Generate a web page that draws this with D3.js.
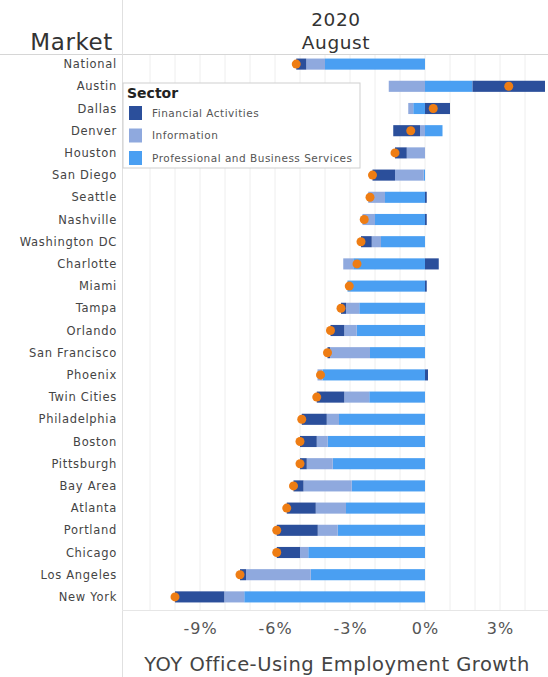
<!DOCTYPE html>
<html>
<head>
<meta charset="utf-8">
<script src="https://cdn.jsdelivr.net/npm/d3@7"></script>
<style>
  html, body { margin: 0; padding: 0; background: #fff; }
  svg { display: block; font-family: "DejaVu Sans", "Noto Sans", sans-serif; }
</style>
</head>
<body>
<svg id="chart" width="548" height="677"></svg>
<script>
const markets = ["National","Austin","Dallas","Denver","Houston","San Diego","Seattle","Nashville",
  "Washington DC","Charlotte","Miami","Tampa","Orlando","San Francisco","Phoenix","Twin Cities",
  "Philadelphia","Boston","Pittsburgh","Bay Area","Atlanta","Portland","Chicago","Los Angeles","New York"];
const financial    = [-0.4, 2.9, 1.0, -1.07, -0.47, -0.9, 0.07, 0.07, -0.43, 0.55, 0.07, -0.2, -0.55, -0.1, 0.12, -1.1, -1.0, -0.67, -0.27, -0.4, -1.16, -1.64, -0.93, -0.24, -1.97];
const information  = [-0.75, -1.45, -0.2, -0.2, -0.73, -1.15, -0.67, -0.5, -0.37, -0.4, 0, -0.53, -0.5, -1.6, -0.2, -1.0, -0.49, -0.44, -1.04, -1.93, -1.21, -0.8, -0.33, -2.59, -0.8];
const professional = [-4.0, 1.9, -0.47, 0.7, 0, -0.05, -1.6, -2.0, -1.76, -2.87, -3.1, -2.63, -2.73, -2.2, -4.1, -2.23, -3.44, -3.89, -3.69, -2.93, -3.16, -3.49, -4.67, -4.57, -7.23];
const sectors = ["Financial Activities", "Information", "Professional and Business Services"];
const sectorColors = ["#2b4f9b", "#8fa9de", "#4a9ff2"];
const xTicks = [-9, -6, -3, 0, 3];
const gridTicks = d3.range(-11, 5);

const rows = markets.map((m, i) => ({
  market: m,
  "Professional and Business Services": professional[i],
  "Information": information[i],
  "Financial Activities": financial[i],
  total: professional[i] + information[i] + financial[i]
}));

const svg = d3.select("#chart");
const W = 548, H = 677;
const plotL = 122, plotR = 548, plotT = 54, plotB = 610;

const x = d3.scaleLinear().domain([-12.12, 4.92]).range([plotL, plotR]);
const y = d3.scaleBand().domain(markets).range([53, 608]).paddingInner(0.5).paddingOuter(0.25);

const color = d3.scaleOrdinal().domain(sectors).range(sectorColors);

// grid lines
svg.append("g").selectAll("line").data(gridTicks).join("line")
  .attr("x1", d => x(d)).attr("x2", d => x(d))
  .attr("y1", plotT).attr("y2", plotB)
  .attr("stroke", "#eeeeee").attr("stroke-width", 1);

// frame lines
svg.append("line").attr("x1", 0).attr("x2", W).attr("y1", plotT + 0.5).attr("y2", plotT + 0.5)
  .attr("stroke", "#d6d6d6");
svg.append("line").attr("x1", plotL + 0.5).attr("x2", plotL + 0.5).attr("y1", 0).attr("y2", H)
  .attr("stroke", "#e0e0e0");
svg.append("line").attr("x1", plotL).attr("x2", W).attr("y1", plotB + 0.5).attr("y2", plotB + 0.5)
  .attr("stroke", "#e6e6e6");

// stacked bars
const keys = ["Professional and Business Services", "Information", "Financial Activities"];
const stack = d3.stack().keys(keys).offset(d3.stackOffsetDiverging);
const series = stack(rows);

svg.append("g").selectAll("g").data(series).join("g")
  .attr("fill", d => color(d.key))
  .selectAll("rect").data(d => d).join("rect")
  .attr("x", d => x(Math.min(d[0], d[1])))
  .attr("width", d => Math.abs(x(d[1]) - x(d[0])))
  .attr("y", d => y(d.data.market))
  .attr("height", y.bandwidth());

// total dots
svg.append("g").selectAll("circle").data(rows).join("circle")
  .attr("cx", d => x(d.total))
  .attr("cy", d => y(d.market) + y.bandwidth() / 2)
  .attr("r", 4.5)
  .attr("fill", "#ee7d14");

// row labels
svg.append("g").selectAll("text").data(markets).join("text")
  .attr("x", 117)
  .attr("y", d => y(d) + y.bandwidth() / 2)
  .attr("dy", "0.35em")
  .attr("text-anchor", "end")
  .attr("font-size", 11.5)
  .attr("letter-spacing", 0.7)
  .attr("fill", "#444")
  .text(d => d);

// header
svg.append("text").attr("x", 113).attr("y", 50).attr("text-anchor", "end")
  .attr("font-size", 23).attr("letter-spacing", 0.6).attr("fill", "#333").text("Market");
svg.append("text").attr("x", 336).attr("y", 26).attr("text-anchor", "middle")
  .attr("font-size", 18.5).attr("letter-spacing", 0.6).attr("fill", "#333").text("2020");
svg.append("text").attr("x", 336).attr("y", 49).attr("text-anchor", "middle")
  .attr("font-size", 18.5).attr("letter-spacing", 0.6).attr("fill", "#333").text("August");

// x axis
const xAxis = d3.axisBottom(x).tickValues(xTicks).tickFormat(d => d + "%").tickSize(0).tickPadding(13);
const gx = svg.append("g").attr("transform", `translate(0,${plotB})`).call(xAxis);
gx.select(".domain").remove();
gx.selectAll("text").attr("font-size", 16).attr("letter-spacing", 1).attr("fill", "#555")
  .attr("font-family", "\"DejaVu Sans\", sans-serif");

svg.append("text").attr("x", 337).attr("y", 671).attr("text-anchor", "middle")
  .attr("font-size", 19.5).attr("letter-spacing", 0.5).attr("fill", "#444").text("YOY Office-Using Employment Growth");

// legend
const lg = svg.append("g").attr("transform", "translate(123,83)");
lg.append("rect").attr("width", 237).attr("height", 85)
  .attr("fill", "#fff").attr("fill-opacity", 0.92).attr("stroke", "#cfcfcf");
lg.append("text").attr("x", 4).attr("y", 15).attr("font-size", 14).attr("font-weight", "bold")
  .attr("fill", "#222").text("Sector");
const li = lg.selectAll("g.item").data(sectors).join("g").attr("class", "item")
  .attr("transform", (d, i) => `translate(6,${23 + i * 22.5})`);
li.append("rect").attr("width", 13).attr("height", 14).attr("fill", d => color(d));
li.append("text").attr("x", 23).attr("y", 7).attr("dy", "0.35em")
  .attr("font-size", 10.5).attr("letter-spacing", 0.5).attr("fill", "#555").text(d => d);
</script>
</body>
</html>
